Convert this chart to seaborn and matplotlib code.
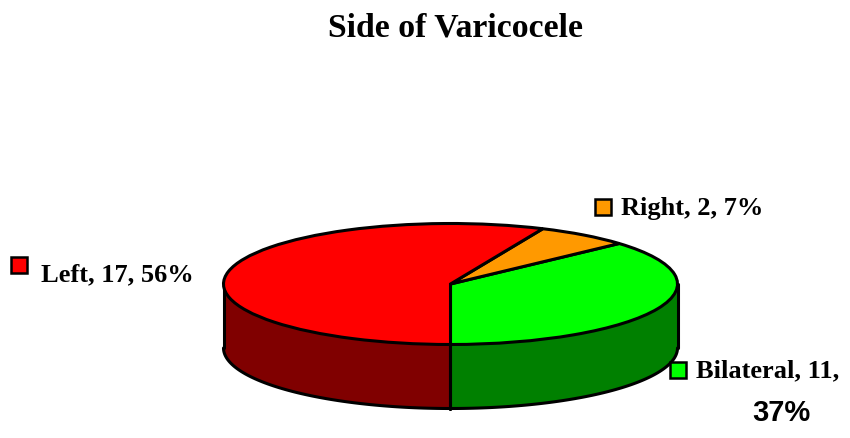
import numpy as np
import matplotlib
matplotlib.use("Agg")
import matplotlib.pyplot as plt
import seaborn as sns

labels = ["Bilateral", "Right", "Left"]
counts = [11, 2, 17]
percents = [37, 7, 56]
top_colors = ["#00ff00", "#ff9900", "#ff0000"]
side_colors = ["#008000", "#808000", "#800000"]

W, H = 850, 439
START = 270
DEPTH = 64 / 60.5  # wall height, in units of the squashed pie radius
LW = 2.2

sns.set_theme(style="white")
plt.rcParams["font.family"] = ["Liberation Serif", "DejaVu Serif"]
plt.rcParams["text.color"] = "black"

fig = plt.figure(figsize=(W / 100, H / 100), dpi=100)
# pie centre (450.5, 285), radii 227 x 60.5 in pixels
ax = fig.add_axes([(450.5 - 227) / W, 1 - (285 + 60.5) / H, 454 / W, 121 / H])

edges = START + np.cumsum([0] + counts) / sum(counts) * 360

# front walls, only the part of each wedge that faces the viewer
for i in range(len(counts)):
    a0, a1 = edges[i], edges[i + 1]
    for lo, hi in [(180, 360), (540, 720)]:
        s, e = max(a0, lo), min(a1, hi)
        if e <= s:
            continue
        t = np.radians(np.linspace(s, e, 80))
        x = np.cos(t)
        y = np.sin(t)
        ax.fill_between(x, y - DEPTH, y, color=side_colors[i], lw=0, zorder=1, clip_on=False)
        ax.plot(x, y - DEPTH, color="black", lw=LW, zorder=2, clip_on=False)
        ax.plot([x[0], x[0]], [y[0], y[0] - DEPTH], color="black", lw=LW, zorder=2, clip_on=False)
        ax.plot([x[-1], x[-1]], [y[-1], y[-1] - DEPTH], color="black", lw=LW, zorder=2, clip_on=False)

wedges, _ = ax.pie(counts, colors=top_colors, startangle=START, counterclock=True, radius=1,
                   wedgeprops={"edgecolor": "black", "linewidth": LW, "clip_on": False})
for w in wedges:
    w.set_zorder(3)
ax.set_aspect("auto")
ax.set_xlim(-1, 1)
ax.set_ylim(-1, 1)
ax.axis("off")

fig.text(455 / W, 1 - 28 / H, "Side of Varicocele", ha="center", va="center",
         fontsize=24.3, fontweight="bold", color="black")

# legend squares and labels, in figure pixels
label_pos = {"Left": (41, 275, 19, 266), "Right": (621, 209, 603, 208), "Bilateral": (696, 371, 678, 371)}
for name, n, p, c in zip(labels, counts, percents, top_colors):
    tx, ty, sx, sy = label_pos[name]
    fig.add_artist(plt.Rectangle(((sx - 8) / W, 1 - (sy + 8) / H), 16 / W, 16 / H, facecolor=c,
                                 edgecolor="black", lw=1.8, transform=fig.transFigure))
    txt = f"{name}, {n}," if name == "Bilateral" else f"{name}, {n}, {p}%"
    fig.text(tx / W, 1 - ty / H, txt, ha="left", va="center", fontsize=19, fontweight="bold",
             color="black")

fig.text(781 / W, 1 - 413 / H, "37%", ha="center", va="center", fontsize=21, fontweight="bold",
         color="black", family=["Liberation Sans", "DejaVu Sans"])

fig.savefig("out.png", dpi=100)
